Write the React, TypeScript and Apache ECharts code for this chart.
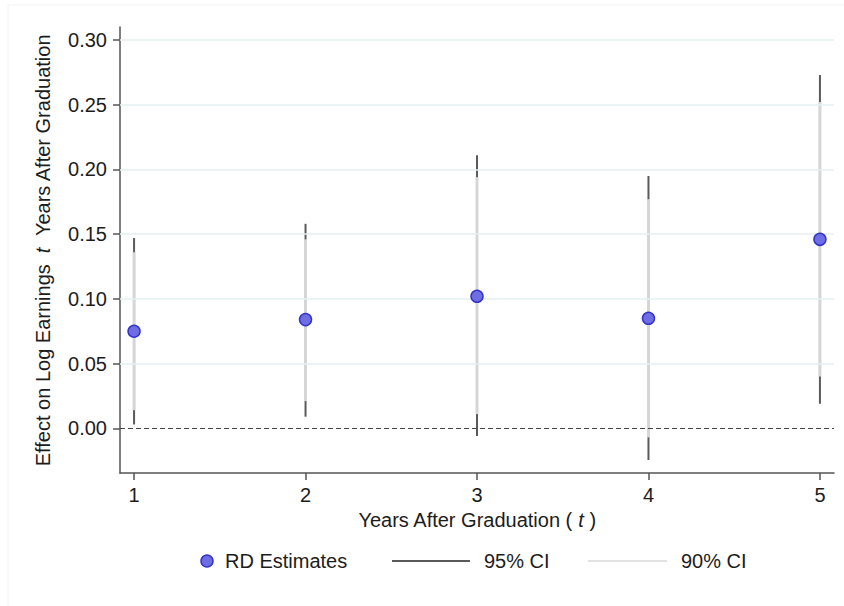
import React, { useEffect, useRef } from "react";
import * as echarts from "echarts";

const years = [1, 2, 3, 4, 5];
const estimates = [0.075, 0.084, 0.102, 0.085, 0.146];
const ci95Low = [0.003, 0.009, -0.006, -0.0245, 0.019];
const ci95High = [0.147, 0.158, 0.211, 0.195, 0.273];
const ci90Low = [0.014, 0.021, 0.011, -0.007, 0.04];
const ci90High = [0.136, 0.146, 0.194, 0.177, 0.252];
const yTicks = [0, 0.05, 0.1, 0.15, 0.2, 0.25, 0.3];
const xTicks = [1, 2, 3, 4, 5];
const legendNames = ["RD Estimates", "95% CI", "90% CI"];

const FONT = "'Liberation Sans', Arial, Helvetica, sans-serif";
const TXT = "#1c1c1c";
const AX = "#555555";
const DARK = "#5a5a5a";
const LIGHT = "#d6d6d6";
const PT_FILL = "#6e6ee2";
const PT_STROKE = "#3434cc";
const GRID = "#e6eff1";

export default function App() {
  const ref = useRef<HTMLDivElement>(null);
  useEffect(() => {
    if (!ref.current) return;
    const chart = echarts.init(ref.current, null, { renderer: "svg" });
    const ciData = years.map((t, i) => [t, ci95Low[i], ci95High[i], ci90Low[i], ci90High[i]]);
    const ptData = years.map((t, i) => [t, estimates[i]]);
    const option: any = {
      animation: false,
      backgroundColor: "#ffffff",
      grid: { left: 120, right: 10, top: 27, bottom: 133, containLabel: false },
      xAxis: {
        type: "value",
        min: 0.918,
        max: 5.082,
        axisLine: { show: true, onZero: false, lineStyle: { color: AX, width: 1.5 } },
        axisTick: { show: true, length: 7, customValues: xTicks, lineStyle: { color: AX, width: 1.5 } },
        axisLabel: {
          customValues: xTicks,
          color: TXT,
          fontSize: 20,
          fontFamily: FONT,
          margin: 12,
          formatter: (v: number) => String(Math.round(v)),
        },
        splitLine: { show: false },
        name: "{n|Years After Graduation ( }{i|t}{n| )}",
        nameLocation: "middle",
        nameGap: 35,
        nameTextStyle: {
          rich: {
            n: { fontSize: 20, fontFamily: FONT, color: TXT },
            i: { fontSize: 20, fontFamily: FONT, color: TXT, fontStyle: "italic" },
          },
        },
      },
      yAxis: {
        type: "value",
        min: -0.0345,
        max: 0.31,
        axisLine: { show: true, onZero: false, lineStyle: { color: AX, width: 1.5 } },
        axisTick: { show: true, length: 7, customValues: yTicks, lineStyle: { color: AX, width: 1.5 } },
        axisLabel: {
          customValues: yTicks,
          color: TXT,
          fontSize: 20,
          fontFamily: FONT,
          margin: 13,
          formatter: (v: number) => v.toFixed(2),
        },
        splitLine: { show: false },
        name: "{n|Effect on Log Earnings  }{i|t}{n|  Years After Graduation}",
        nameLocation: "middle",
        nameGap: 67,
        nameTextStyle: {
          rich: {
            n: { fontSize: 20, fontFamily: FONT, color: TXT },
            i: { fontSize: 20, fontFamily: FONT, color: TXT, fontStyle: "italic" },
          },
        },
      },
      series: [
        {
          type: "line",
          data: [],
          silent: true,
          markLine: {
            silent: true,
            symbol: "none",
            label: { show: false },
            lineStyle: { color: GRID, width: 1.5, type: "solid" },
            data: yTicks.filter((v) => v !== 0).map((v) => ({ yAxis: v })),
          },
          z: 1,
        },
        {
          type: "line",
          data: [],
          silent: true,
          markLine: {
            silent: true,
            symbol: "none",
            label: { show: false },
            lineStyle: { color: "#444444", width: 1.2, type: [5, 3] },
            data: [{ yAxis: 0 }],
          },
          z: 2,
        },
        {
          name: "CI",
          type: "custom",
          data: ciData,
          z: 3,
          renderItem: (params: any, api: any) => {
            const t = api.value(0);
            const a = api.coord([t, api.value(1)]);
            const b = api.coord([t, api.value(2)]);
            const c = api.coord([t, api.value(3)]);
            const d = api.coord([t, api.value(4)]);
            return {
              type: "group",
              children: [
                {
                  type: "line",
                  shape: { x1: a[0], y1: a[1], x2: b[0], y2: b[1] },
                  style: { stroke: DARK, lineWidth: 2 },
                },
                {
                  type: "line",
                  shape: { x1: c[0], y1: c[1], x2: d[0], y2: d[1] },
                  style: { stroke: LIGHT, lineWidth: 3 },
                },
              ],
            };
          },
        },
        {
          name: legendNames[0],
          type: "scatter",
          data: ptData,
          symbol: "circle",
          symbolSize: 12,
          itemStyle: { color: PT_FILL, borderColor: PT_STROKE, borderWidth: 1.5, opacity: 1 },
          z: 5,
        },
      ],
      graphic: [
        { type: "line", shape: { x1: 8, y1: 5, x2: 844, y2: 5 }, style: { stroke: "#f2f2f2", lineWidth: 1 } },
        { type: "line", shape: { x1: 8, y1: 5, x2: 8, y2: 606 }, style: { stroke: "#f2f2f2", lineWidth: 1 } },
        {
          type: "circle",
          shape: { cx: 207, cy: 561, r: 6 },
          style: { fill: PT_FILL, stroke: PT_STROKE, lineWidth: 1.5 },
        },
        {
          type: "text",
          x: 225,
          y: 561,
          style: { text: legendNames[0], fill: TXT, fontSize: 20, fontFamily: FONT, verticalAlign: "middle" },
        },
        { type: "line", shape: { x1: 392, y1: 561, x2: 470, y2: 561 }, style: { stroke: DARK, lineWidth: 2 } },
        {
          type: "text",
          x: 484,
          y: 561,
          style: { text: legendNames[1], fill: TXT, fontSize: 20, fontFamily: FONT, verticalAlign: "middle" },
        },
        { type: "line", shape: { x1: 588, y1: 561, x2: 667, y2: 561 }, style: { stroke: "#e2e2e2", lineWidth: 2 } },
        {
          type: "text",
          x: 681,
          y: 561,
          style: { text: legendNames[2], fill: TXT, fontSize: 20, fontFamily: FONT, verticalAlign: "middle" },
        },
      ],
    };
    chart.setOption(option);
    return () => chart.dispose();
  }, []);
  return (
    <div
      ref={ref}
      style={{ position: "absolute", left: 0, top: 0, width: 844, height: 606, background: "#fff" }}
    />
  );
}
